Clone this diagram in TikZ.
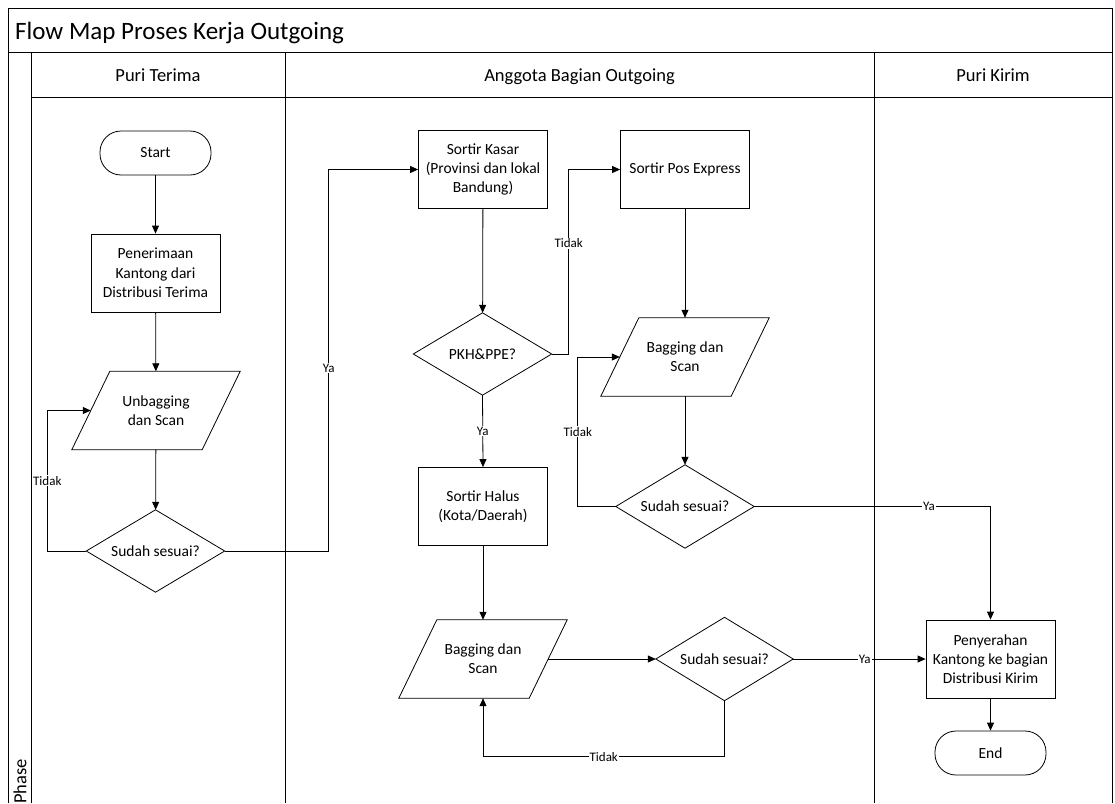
\documentclass[tikz,border=0pt]{standalone}
\usepackage{fontspec}
\setmainfont{Carlito}
\usetikzlibrary{arrows.meta}
\newcommand\drawdiam[1]{\draw[shapeline] (#1.north) -- (#1.east) -- (#1.south) -- (#1.west) -- cycle;}
\newcommand\drawpara[1]{\draw[shapeline] ([xshift=19pt]#1.north west) -- ([xshift=19pt]#1.north east) -- ([xshift=-19pt]#1.south east) -- ([xshift=-19pt]#1.south west) -- cycle;}
\begin{document}
\begin{tikzpicture}[x=1pt,y=-1pt,
  frame/.style={draw=black, line width=1pt},
  shapeline/.style={draw=black, line width=0.8pt},
  txt/.style={font=\fontsize{15.5}{19.3}\selectfont, align=center, inner sep=0pt},
  proc/.style={txt, rectangle, draw, line width=0.8pt, minimum width=129pt, minimum height=78pt},
  term/.style={txt, rectangle, rounded corners=21pt, draw, line width=0.8pt, minimum width=111pt, minimum height=44pt},
  io/.style={txt, minimum width=130pt, minimum height=78pt},
  dec/.style={txt, minimum width=138pt, minimum height=82pt},
  flow/.style={line width=0.8pt, -{Triangle[length=8pt,width=7pt]}},
  lbl/.style={font=\fontsize{13}{15}\selectfont, fill=white, inner sep=1pt},
  hdr/.style={font=\fontsize{18.5}{22}\selectfont, inner sep=0pt}
]
\useasboundingbox (0,0) rectangle (1115,803);
\fill[white] (0,0) rectangle (1115,803);
% frame
\draw[frame] (8,803) -- (8,8) -- (1112,8) -- (1112,803);
\draw[frame] (8,52) -- (1112,52);
\draw[frame] (31,52) -- (31,803);
\draw[frame] (31,97) -- (1112,97);
\draw[frame] (285,52) -- (285,803);
\draw[frame] (874,52) -- (874,803);
\node[font=\fontsize{25}{30}\selectfont, anchor=base west, inner sep=0pt] (title) at (15,39.5) {Flow Map Proses Kerja Outgoing};
\node[hdr, anchor=base] (h1) at (158,81.5) {Puri Terima};
\node[hdr, anchor=base] (h2) at (579.5,81.5) {Anggota Bagian Outgoing};
\node[hdr, anchor=base] (h3) at (993,81.5) {Puri Kirim};
\node[hdr, rotate=90, anchor=west] (phase) at (20,804) {Phase};
% nodes
\node[term] (start) at (155.5,153) {Start};
\node[proc] (pen) at (155.5,273) {Penerimaan\\Kantong dari\\Distribusi Terima};
\node[io] (unb) at (156,410.5) {Unbagging\\dan Scan};
\drawpara{unb}
\node[dec] (d1) at (155.5,551) {Sudah sesuai?};
\drawdiam{d1}
\node[proc] (sk) at (483,169.5) {Sortir Kasar\\(Provinsi dan lokal\\Bandung)};
\node[dec] (pkh) at (482.5,354) {PKH\&PPE?};
\drawdiam{pkh}
\node[proc] (sh) at (483,506.5) {Sortir Halus\\(Kota/Daerah)};
\node[io] (bag3) at (483,659) {Bagging dan\\Scan};
\drawpara{bag3}
\node[proc] (spe) at (685,169.5) {Sortir Pos Express};
\node[io] (bag2) at (685,357) {Bagging dan\\Scan};
\drawpara{bag2}
\node[dec, minimum height=83pt] (d2) at (685,506.5) {Sudah sesuai?};
\drawdiam{d2}
\node[dec, minimum height=83pt, minimum width=137pt] (d3) at (724.5,659) {Sudah sesuai?};
\drawdiam{d3}
\node[proc] (pny) at (990.5,659) {Penyerahan\\Kantong ke bagian\\Distribusi Kirim};
\node[term] (end) at (990.5,753) {End};
% connectors
\draw[flow] (start) -- (pen);
\draw[flow] (pen) -- (unb);
\draw[flow] (unb) -- (d1);
\draw[flow] (d1.west) -- ++(-39,0) |- node[lbl,pos=0.25]{Tidak} (unb.west);
\draw[flow] (d1.east) -- ++(104,0) |- node[lbl,pos=0.24]{Ya} (sk.west);
\draw[flow] (sk) -- (pkh);
\draw[flow] (pkh.east) -- ++(17,0) |- node[lbl,pos=0.3]{Tidak} (spe.west);
\draw[flow] (pkh.south) -- node[lbl]{Ya} (sh.north);
\draw[flow] (spe) -- (bag2);
\draw[flow] (bag2) -- (d2);
\draw[flow] (d2.west) -- ++(-38,0) |- node[lbl,pos=0.25]{Tidak} (bag2.west);
\draw[flow] (d2.east) -| node[lbl,pos=0.37]{Ya} (pny.north);
\draw[flow] (sh) -- (bag3);
\draw[flow] (bag3.east) -- (d3.west);
\draw[flow] (d3.east) -- node[lbl,pos=0.54]{Ya} (pny.west);
\draw[flow] (d3.south) -- ++(0,56) -| node[lbl,pos=0.25]{Tidak} (bag3.south);
\draw[flow] (pny) -- (end);
\end{tikzpicture}
\end{document}
